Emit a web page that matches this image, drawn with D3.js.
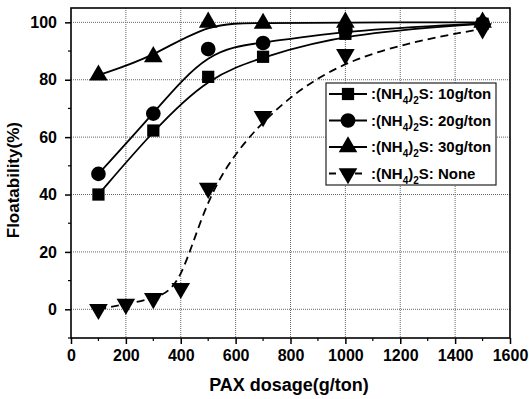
<!DOCTYPE html>
<html>
<head>
<meta charset="utf-8">
<script src="https://cdn.jsdelivr.net/npm/d3@7"></script>
<style>
body{margin:0;background:#fff;}
text{font-family:"Liberation Sans",Arial,sans-serif;font-weight:bold;fill:#000;}
</style>
</head>
<body>
<script>
var width = 529, height = 399;
var plotLeft = 71, plotRight = 510, plotTop = 8, plotBottom = 338;

// data
var xTicks = [0, 200, 400, 600, 800, 1000, 1200, 1400, 1600];
var yTicks = [0, 20, 40, 60, 80, 100];

var dose10 = [100, 300, 500, 700, 1000, 1500];
var float10 = [40, 62.3, 81, 88, 96, 99.5];
var dose20 = [100, 300, 500, 700, 1000, 1500];
var float20 = [47.2, 68.2, 90.7, 92.8, 97.2, 99.6];
var dose30 = [100, 300, 500, 700, 1000, 1500];
var float30 = [81.6, 88, 100, 99.6, 100, 100];
var doseNone = [100, 200, 300, 400, 500, 700, 1000, 1500];
var floatNone = [0, 1.8, 3.8, 7.3, 42.2, 67.2, 88.8, 97.8];

var seriesNames = ['10g/ton', '20g/ton', '30g/ton', 'None'];

var x = d3.scaleLinear().domain([0, 1600]).range([plotLeft, plotRight]);
var y = d3.scaleLinear().domain([-10, 105]).range([plotBottom, plotTop]);

var svg = d3.select('body').append('svg')
    .attr('width', width)
    .attr('height', height);

// grid
svg.append('g').selectAll('line')
    .data(xTicks.slice(1, -1))
    .enter().append('line')
    .attr('x1', d => x(d)).attr('x2', d => x(d))
    .attr('y1', plotTop).attr('y2', plotBottom)
    .attr('stroke', '#666').attr('stroke-width', 1).attr('stroke-dasharray', '1,1');
svg.append('g').selectAll('line')
    .data(yTicks)
    .enter().append('line')
    .attr('x1', plotLeft).attr('x2', plotRight)
    .attr('y1', d => y(d)).attr('y2', d => y(d))
    .attr('stroke', '#666').attr('stroke-width', 1).attr('stroke-dasharray', '1,1');

// axes
var xAxis = d3.axisBottom(x).tickValues(xTicks).tickFormat(d3.format('d')).tickSize(6).tickPadding(6);
var yAxis = d3.axisLeft(y).tickValues(yTicks).tickFormat(d3.format('d')).tickSize(6).tickPadding(8);

var gx = svg.append('g').attr('transform', 'translate(0,' + plotBottom + ')').call(xAxis);
var gy = svg.append('g').attr('transform', 'translate(' + plotLeft + ',0)').call(yAxis);
[gx, gy].forEach(function(g){
  g.select('.domain').remove();
  g.selectAll('line').attr('stroke', '#000').attr('stroke-width', 1.5);
  g.selectAll('text').style('font-size', '16px').style('font-family', '"Liberation Sans",Arial,sans-serif').style('font-weight', 'bold');
});

// minor ticks
svg.append('g').selectAll('line')
    .data(d3.range(100, 1600, 200))
    .enter().append('line')
    .attr('x1', d => x(d)).attr('x2', d => x(d))
    .attr('y1', plotBottom).attr('y2', plotBottom + 3)
    .attr('stroke', '#000').attr('stroke-width', 1.2);
svg.append('g').selectAll('line')
    .data([-10, 10, 30, 50, 70, 90])
    .enter().append('line')
    .attr('x1', plotLeft - 3).attr('x2', plotLeft)
    .attr('y1', d => y(d)).attr('y2', d => y(d))
    .attr('stroke', '#000').attr('stroke-width', 1.2);

// frame
svg.append('rect')
    .attr('x', plotLeft).attr('y', plotTop)
    .attr('width', plotRight - plotLeft).attr('height', plotBottom - plotTop)
    .attr('fill', 'none').attr('stroke', '#000').attr('stroke-width', 1.6);

var line = d3.line()
    .x(d => x(d[0]))
    .y(d => y(d[1]))
    .curve(d3.curveBasis);

var series = [
  {xs: dose10, ys: float10, sym: d3.symbolSquare, size: 150, dash: null},
  {xs: dose20, ys: float20, sym: d3.symbolCircle, size: 170, dash: null},
  {xs: dose30, ys: float30, sym: d3.symbolTriangle, size: 150, dash: null},
  {xs: doseNone, ys: floatNone, sym: d3.symbolTriangle, size: 150, dash: '8,5', flip: true}
];

series.forEach(function(s){
  var pts = s.xs.map((v, i) => [v, s.ys[i]]);
  svg.append('path')
      .datum(pts)
      .attr('d', line)
      .attr('fill', 'none')
      .attr('stroke', '#000')
      .attr('stroke-width', 1.8)
      .attr('stroke-dasharray', s.dash);
  svg.append('g').selectAll('path')
      .data(pts)
      .enter().append('path')
      .attr('d', d3.symbol().type(s.sym).size(s.size))
      .attr('transform', d => 'translate(' + x(d[0]) + ',' + y(d[1]) + ')' + (s.flip ? ' rotate(180)' : ''))
      .attr('fill', '#000');
});

// legend
var lg = svg.append('g');
lg.append('rect')
    .attr('x', 326).attr('y', 83)
    .attr('width', 170).attr('height', 102)
    .attr('fill', '#fff').attr('stroke', '#222').attr('stroke-width', 1.2);

series.forEach(function(s, i){
  var cy = 94 + i * 26.5;
  lg.append('line')
      .attr('x1', 329).attr('x2', 367)
      .attr('y1', cy).attr('y2', cy)
      .attr('stroke', '#000').attr('stroke-width', 1.8)
      .attr('stroke-dasharray', s.dash ? '7,6' : null);
  lg.append('path')
      .attr('d', d3.symbol().type(s.sym).size(s.size))
      .attr('transform', 'translate(348,' + cy + ')' + (s.flip ? ' rotate(180)' : ''))
      .attr('fill', '#000');
  var t = lg.append('text')
      .attr('x', 371).attr('y', cy + 5)
      .style('font-size', '15px');
  t.append('tspan').text(':(NH');
  t.append('tspan').attr('dy', 5).style('font-size', '10px').text('4');
  t.append('tspan').attr('dy', -5).text(')');
  t.append('tspan').attr('dy', 5).style('font-size', '10px').text('2');
  t.append('tspan').attr('dy', -5).text('S: ' + seriesNames[i]);
});

// axis titles
svg.append('text')
    .attr('x', 289).attr('y', 391)
    .attr('text-anchor', 'middle')
    .style('font-size', '18px')
    .text('PAX dosage(g/ton)');

svg.append('text')
    .attr('transform', 'translate(19,' + y(45) + ') rotate(-90)')
    .attr('text-anchor', 'middle')
    .style('font-size', '17px')
    .text('Floatability(%)');
</script>
</body>
</html>
